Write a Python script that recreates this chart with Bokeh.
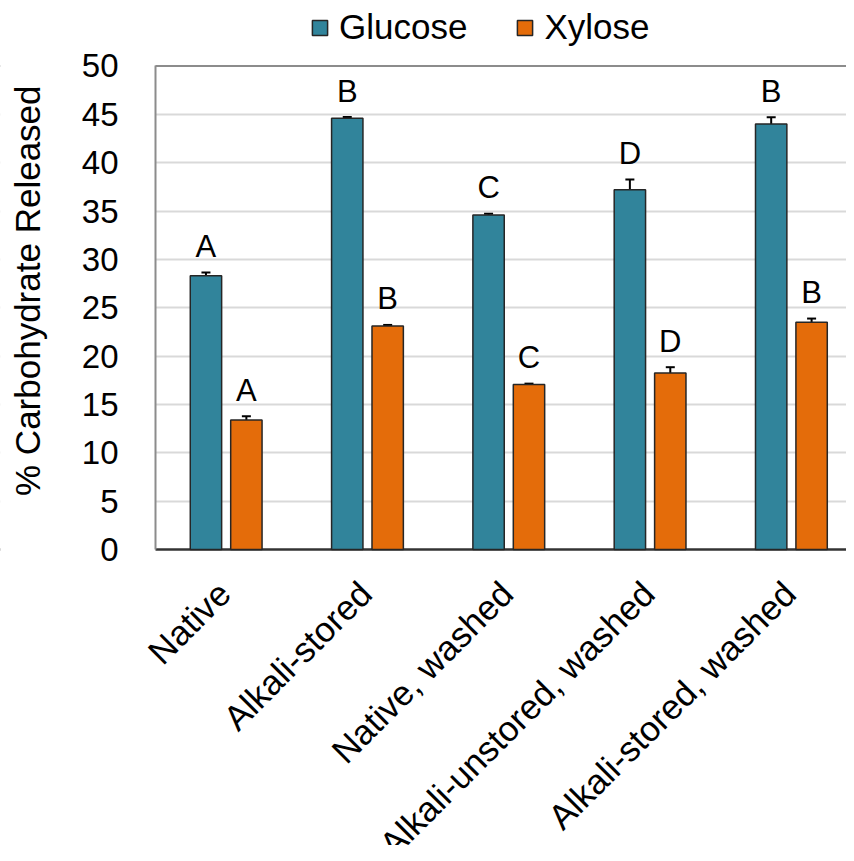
import numpy as np
from bokeh.plotting import figure
from bokeh.models import (ColumnDataSource, Range1d, FixedTicker, Whisker, TeeHead,
                          Legend, LegendItem, Span, BoxAnnotation)
from bokeh.core.properties import value
from bokeh.embed import file_html
from bokeh.resources import INLINE

# ---- data ----
categories = ["Native", "Alkali-stored", "Native, washed",
              "Alkali-unstored, washed", "Alkali-stored, washed"]
glucose = [28.3, 44.6, 34.6, 37.2, 44.0]
glucose_err = [0.35, 0.12, 0.12, 1.05, 0.7]
xylose = [13.4, 23.1, 17.05, 18.25, 23.5]
xylose_err = [0.38, 0.12, 0.1, 0.6, 0.38]
glucose_letters = ["A", "B", "C", "D", "B"]
xylose_letters = ["A", "B", "C", "D", "B"]
series_names = ["Glucose", "Xylose"]
y_ticks = [0, 5, 10, 15, 20, 25, 30, 35, 40, 45, 50]
y_title = "% Carbohydrate Released"

FONT = "Liberation Sans"
C_GLU = "#31849B"
C_XYL = "#E46C0A"
OFF = 0.143
BW = 0.222

idx = np.arange(len(categories))
x_left = -0.5  # left boundary of the first category group (y axis position)

def make_src(vals, errs, letters, shift):
    v = np.array(vals); e = np.array(errs)
    return ColumnDataSource(dict(x=idx + shift, top=v, upper=v + e, lower=v - e,
                                 letter=letters))

src_g = make_src(glucose, glucose_err, glucose_letters, -OFF)
src_x = make_src(xylose, xylose_err, xylose_letters, OFF)

p = figure(width=846, height=845, output_backend="svg", toolbar_location=None,
           x_range=Range1d(-1.597, 4.390), y_range=Range1d(-30.61, 56.77),
           min_border_left=0, min_border_top=0, min_border_right=0,
           min_border_bottom=0)
p.outline_line_color = None
p.background_fill_color = "white"

# grid
p.xgrid.visible = False
p.ygrid.ticker = FixedTicker(ticks=y_ticks[1:-1])
p.ygrid.grid_line_color = "#d9d9d9"
p.ygrid.grid_line_width = 2

# top border and baseline
p.add_layout(Span(location=y_ticks[-1], dimension="width", line_color="#8c8c8c",
                  line_width=2, level="underlay"))
p.add_layout(Span(location=y_ticks[0], dimension="width", line_color="#333333",
                  line_width=2.5, level="underlay"))
# white mask left of the value axis
p.add_layout(BoxAnnotation(right=x_left, fill_color="white", fill_alpha=1.0,
                           line_alpha=0, level="underlay"))

r_g = p.vbar(x="x", top="top", width=BW, source=src_g, fill_color=C_GLU,
             line_color="#262626", line_width=1.5)
r_x = p.vbar(x="x", top="top", width=BW, source=src_x, fill_color=C_XYL,
             line_color="#262626", line_width=1.5)

for s in (src_g, src_x):
    w = Whisker(source=s, base="x", upper="upper", lower="lower",
                line_color="black", line_width=2,
                upper_head=TeeHead(size=9, line_width=2, line_color="black"),
                lower_head=TeeHead(size=9, line_width=2, line_color="black"))
    p.add_layout(w)
    p.text(x="x", y="upper", text="letter", source=s, text_align="center",
           text_baseline="alphabetic", y_offset=-26, text_font=value(FONT),
           text_font_size="31px", text_color="black")

# category labels (rotated 45 degrees, hanging below the baseline)
p.text(x=idx, y=[y_ticks[0]] * len(idx), text=categories, angle=np.pi / 4,
       text_align="right", text_baseline="middle", x_offset=-2, y_offset=38,
       text_font=value(FONT), text_font_size="35px", text_color="black")

# value axis, fixed at the left boundary of the first group
p.yaxis.fixed_location = x_left
p.yaxis.bounds = (y_ticks[0], y_ticks[-1])
p.yaxis.ticker = FixedTicker(ticks=y_ticks)
p.yaxis.major_tick_line_color = None
p.yaxis.minor_tick_line_color = None
p.yaxis.axis_line_color = "#8c8c8c"
p.yaxis.axis_line_width = 2
p.yaxis.major_label_text_font = FONT
p.yaxis.major_label_text_font_size = "33px"
p.yaxis.major_label_text_color = "black"
p.yaxis.major_label_standoff = 31

# axis title
p.text(x=[x_left], y=[(y_ticks[0] + y_ticks[-1]) / 2], text=[y_title],
       angle=np.pi / 2, text_align="center", text_baseline="middle",
       x_offset=-128, y_offset=-17, text_font=value(FONT),
       text_font_size="35px", text_color="black")

p.xaxis.visible = False

legend = Legend(items=[LegendItem(label=series_names[0], renderers=[r_g]),
                       LegendItem(label=series_names[1], renderers=[r_x])],
                orientation="horizontal", location=(310, 798),
                label_text_font=FONT, label_text_font_size="35px",
                label_text_color="black", glyph_width=19, glyph_height=19,
                label_standoff=10, spacing=48, padding=0, margin=0,
                border_line_color=None, background_fill_alpha=0)
p.add_layout(legend, "center")

open("out.html", "w").write(file_html(p, INLINE))
